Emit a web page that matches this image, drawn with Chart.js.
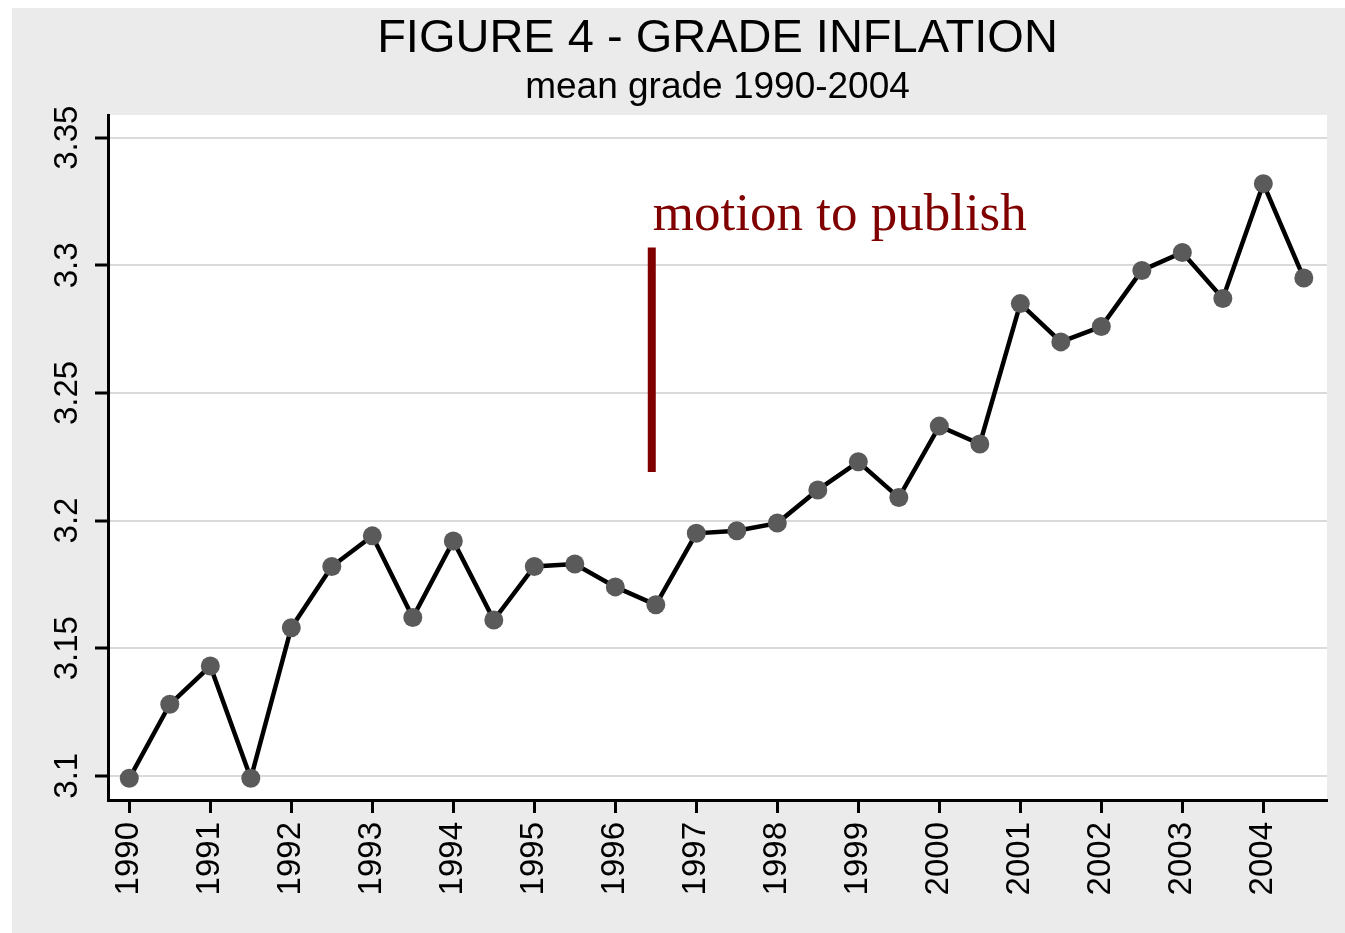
<!DOCTYPE html>
<html>
<head>
<meta charset="utf-8">
<title>Figure 4 - Grade Inflation</title>
<script src="https://cdn.jsdelivr.net/npm/chart.js@4"></script>
<style>
  html, body { margin: 0; padding: 0; background: #fff; }
  canvas { display: block; }
</style>
</head>
<body>
<canvas id="chart" width="1345" height="933"></canvas>
<script>
// half-year terms, 1990 to 2004
var terms = [1990, 1990.5, 1991, 1991.5, 1992, 1992.5, 1993, 1993.5, 1994, 1994.5,
             1995, 1995.5, 1996, 1996.5, 1997, 1997.5, 1998, 1998.5, 1999, 1999.5,
             2000, 2000.5, 2001, 2001.5, 2002, 2002.5, 2003, 2003.5, 2004, 2004.5];
var meanGrade = [3.099, 3.128, 3.143, 3.099, 3.158, 3.182, 3.194, 3.162, 3.192, 3.161,
                 3.182, 3.183, 3.174, 3.167, 3.195, 3.196, 3.199, 3.212, 3.223, 3.209,
                 3.237, 3.230, 3.285, 3.270, 3.276, 3.298, 3.305, 3.287, 3.332, 3.295];
var yearTicks = [1990, 1991, 1992, 1993, 1994, 1995, 1996, 1997, 1998, 1999, 2000, 2001, 2002, 2003, 2004];
var gradeTicks = [3.1, 3.15, 3.2, 3.25, 3.3, 3.35];

// "motion to publish" marker
var motionTerm = 1996.45;
var motionRange = [3.219, 3.307];
var motionLabel = 'motion to publish';
var motionLabelY = 3.314;

var sansFont = '"Liberation Sans", Arial, sans-serif';

var backgroundPlugin = {
    id: 'background',
    beforeDraw: function (chart) {
        var ctx = chart.ctx;
        var area = chart.chartArea;
        ctx.save();
        ctx.fillStyle = '#ffffff';
        ctx.fillRect(0, 0, chart.width, chart.height);
        ctx.fillStyle = '#ebebeb';
        ctx.fillRect(12, 8, chart.width - 12, chart.height - 8);
        ctx.fillStyle = '#ffffff';
        ctx.fillRect(area.left, area.top, area.right - area.left, area.bottom - area.top);
        ctx.restore();
    }
};

var motionTextPlugin = {
    id: 'motionText',
    afterDatasetsDraw: function (chart) {
        var ctx = chart.ctx;
        var x = chart.scales.x.getPixelForValue(motionTerm);
        var y = chart.scales.y.getPixelForValue(motionLabelY);
        ctx.save();
        ctx.font = '53px "Liberation Serif", "Times New Roman", serif';
        ctx.fillStyle = '#800000';
        ctx.textAlign = 'left';
        ctx.textBaseline = 'alphabetic';
        ctx.fillText(motionLabel, x + 1, y);
        ctx.restore();
    }
};

var ctx = document.getElementById('chart').getContext('2d');
var chart = new Chart(ctx, {
    type: 'line',
    data: {
        datasets: [{
            label: 'mean grade',
            data: terms.map(function (t, i) { return { x: t, y: meanGrade[i] }; }),
            borderColor: '#000000',
            borderWidth: 4.5,
            pointRadius: 9.5,
            pointHoverRadius: 9.5,
            pointBorderWidth: 0,
            pointBackgroundColor: '#5a5a5a',
            fill: false,
            tension: 0
        }, {
            label: 'motion to publish',
            data: [{ x: motionTerm, y: motionRange[0] }, { x: motionTerm, y: motionRange[1] }],
            borderColor: '#800000',
            borderWidth: 8,
            borderCapStyle: 'butt',
            pointRadius: 0,
            pointHoverRadius: 0,
            fill: false
        }]
    },
    options: {
        responsive: false,
        animation: false,
        events: [],
        layout: {
            padding: { left: 0, right: 18, top: 0, bottom: 0 }
        },
        plugins: {
            legend: { display: false },
            tooltip: { enabled: false },
            title: {
                display: true,
                text: 'FIGURE 4 - GRADE INFLATION',
                fullSize: false,
                color: '#000000',
                font: { family: sansFont, size: 47, weight: 'normal', lineHeight: 1.2 },
                padding: { top: 11, bottom: 2 }
            },
            subtitle: {
                display: true,
                text: 'mean grade 1990-2004',
                fullSize: false,
                color: '#000000',
                font: { family: sansFont, size: 37, weight: 'normal', lineHeight: 1 },
                padding: { top: 0, bottom: 8.6 }
            }
        },
        scales: {
            x: {
                type: 'linear',
                min: 1989.737,
                max: 2004.786,
                afterBuildTicks: function (scale) {
                    scale.ticks = yearTicks.map(function (v) { return { value: v }; });
                },
                afterFit: function (scale) {
                    scale.height = 133;
                },
                border: { display: true, color: '#000000', width: 3 },
                grid: {
                    display: true,
                    drawOnChartArea: false,
                    drawTicks: true,
                    tickLength: 13,
                    tickWidth: 3,
                    tickColor: '#000000'
                },
                ticks: {
                    autoSkip: false,
                    minRotation: 90,
                    maxRotation: 90,
                    padding: 9,
                    color: '#000000',
                    font: { family: sansFont, size: 33 },
                    callback: function (value) { return String(value); }
                }
            },
            y: {
                type: 'linear',
                min: 3.0905,
                max: 3.3589,
                afterBuildTicks: function (scale) {
                    scale.ticks = gradeTicks.map(function (v) { return { value: v }; });
                },
                afterFit: function (scale) {
                    scale.width = 108;
                },
                border: { display: true, color: '#000000', width: 3 },
                grid: {
                    display: true,
                    drawOnChartArea: true,
                    color: '#dadada',
                    lineWidth: 2,
                    drawTicks: true,
                    tickLength: 13,
                    tickWidth: 3,
                    tickColor: '#000000'
                },
                ticks: {
                    minRotation: 90,
                    maxRotation: 90,
                    crossAlign: 'center',
                    padding: -5,
                    color: '#000000',
                    font: { family: sansFont, size: 33 },
                    callback: function (value) { return String(value); }
                }
            }
        }
    },
    plugins: [backgroundPlugin, motionTextPlugin]
});
</script>
</body>
</html>
